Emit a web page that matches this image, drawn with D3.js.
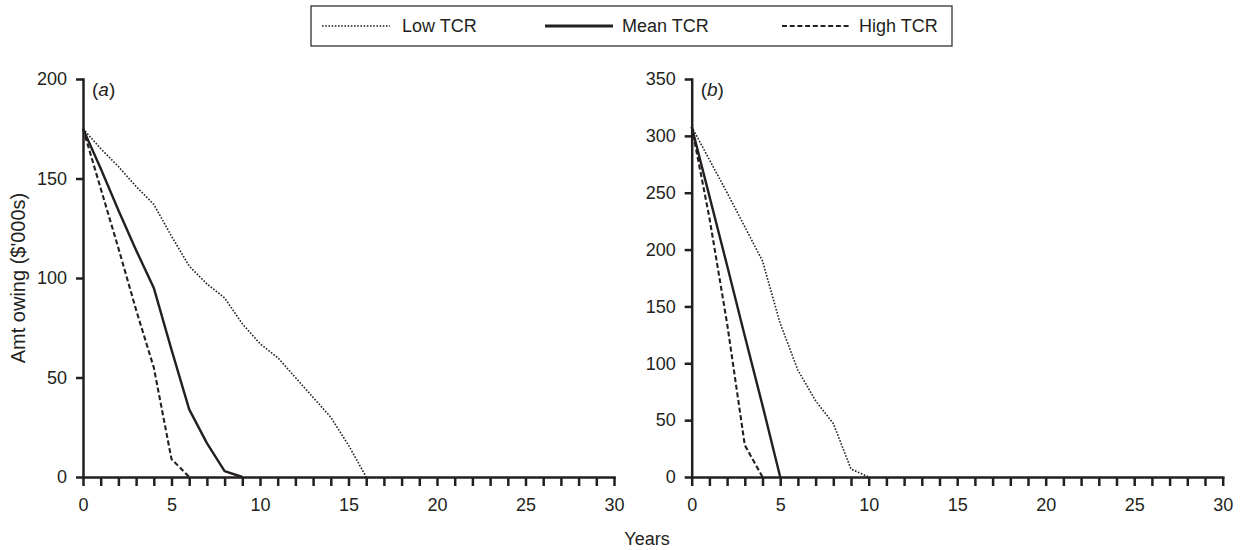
<!DOCTYPE html>
<html>
<head>
<meta charset="utf-8">
<script src="https://cdn.jsdelivr.net/npm/d3@7"></script>
<style>
body { margin: 0; background: #fff; }
text { font-family: "Liberation Sans", Arial, sans-serif; fill: #231f20; }
.axis path, .axis line { stroke: #231f20; stroke-width: 2.5; }
.axis text { font-size: 18px; }
</style>
</head>
<body>
<script>
const width = 1241
const height = 550
const ink = "#231f20"

// values, one per year starting at year 0
const lowA = [175, 165, 156, 146, 137, 121, 106, 97, 90, 77, 67, 60, 50, 40, 30, 16, 0]
const meanA = [175, 155, 134, 114, 95, 64, 34, 17, 3, 0]
const highA = [175, 145, 115, 84, 55, 9, 0]
const lowB = [308, 279, 250, 220, 190, 135, 94, 67, 47, 7, 0]
const meanB = [308, 247, 186, 124, 63, 0]
const highB = [308, 228, 135, 28, 0]

const seriesNames = ["Low TCR", "Mean TCR", "High TCR"]
const yTicksA = [0, 50, 100, 150, 200]
const yTicksB = [0, 50, 100, 150, 200, 250, 300, 350]
const xLabelled = [0, 5, 10, 15, 20, 25, 30]

const styles = {
    "Low TCR": {width: 1.6, dash: "1.6,1.6"},
    "Mean TCR": {width: 2.4, dash: null},
    "High TCR": {width: 2.1, dash: "5,2.7"}
}

const svg = d3.select("body")
    .append("svg")
    .attr("width", width)
    .attr("height", height)

function drawPanel(series, yMax, yTicks, x0, tag) {
    const x = d3.scaleLinear().domain([0, 30]).range([x0, x0 + 531])
    const y = d3.scaleLinear().domain([0, yMax]).range([477, 79])

    svg.append("g")
        .attr("class", "axis")
        .attr("transform", "translate(0,477)")
        .call(d3.axisBottom(x)
            .tickValues(d3.range(0, 31))
            .tickFormat(d => xLabelled.includes(d) ? d : "")
            .tickSize(9)
            .tickSizeOuter(0)
            .tickPadding(12))

    svg.append("g")
        .attr("class", "axis")
        .attr("transform", `translate(${x0},0)`)
        .call(d3.axisLeft(y)
            .tickValues(yTicks)
            .tickSize(7)
            .tickSizeOuter(0)
            .tickPadding(9))

    svg.selectAll(".axis .domain").attr("stroke-linecap", "square")

    const line = d3.line()
        .x((d, i) => x(i))
        .y(d => y(d))

    series.forEach((values, k) => {
        const st = styles[seriesNames[k]]
        svg.append("path")
            .datum(values)
            .attr("d", line)
            .attr("fill", "none")
            .attr("stroke", ink)
            .attr("stroke-width", st.width)
            .attr("stroke-dasharray", st.dash)
            .attr("stroke-linejoin", "round")
    })

    const label = svg.append("text")
        .attr("x", x0 + 9)
        .attr("y", 96)
        .style("font-size", "19px")
    label.append("tspan").text("(")
    label.append("tspan").style("font-style", "italic").text(tag)
    label.append("tspan").text(")")
}

drawPanel([lowA, meanA, highA], 200, yTicksA, 83, "a")
drawPanel([lowB, meanB, highB], 350, yTicksB, 691.7, "b")

// axis titles
svg.append("text")
    .attr("x", 647)
    .attr("y", 545)
    .attr("text-anchor", "middle")
    .style("font-size", "18px")
    .text("Years")

svg.append("text")
    .attr("transform", "translate(25,278) rotate(-90)")
    .attr("text-anchor", "middle")
    .style("font-size", "20px")
    .text("Amt owing ($'000s)")

// legend
svg.append("rect")
    .attr("x", 311)
    .attr("y", 6)
    .attr("width", 641)
    .attr("height", 40)
    .attr("fill", "none")
    .attr("stroke", ink)
    .attr("stroke-width", 1.2)

const legendX = [322, 545, 782]
seriesNames.forEach((name, k) => {
    const st = styles[name]
    svg.append("line")
        .attr("x1", legendX[k])
        .attr("x2", legendX[k] + 68)
        .attr("y1", 26)
        .attr("y2", 26)
        .attr("stroke", ink)
        .attr("stroke-width", k == 1 ? 3 : st.width)
        .attr("stroke-dasharray", st.dash)
    svg.append("text")
        .attr("x", legendX[k] + (k == 0 ? 80 : 77))
        .attr("y", 32)
        .style("font-size", "18px")
        .text(name)
})
</script>
</body>
</html>
